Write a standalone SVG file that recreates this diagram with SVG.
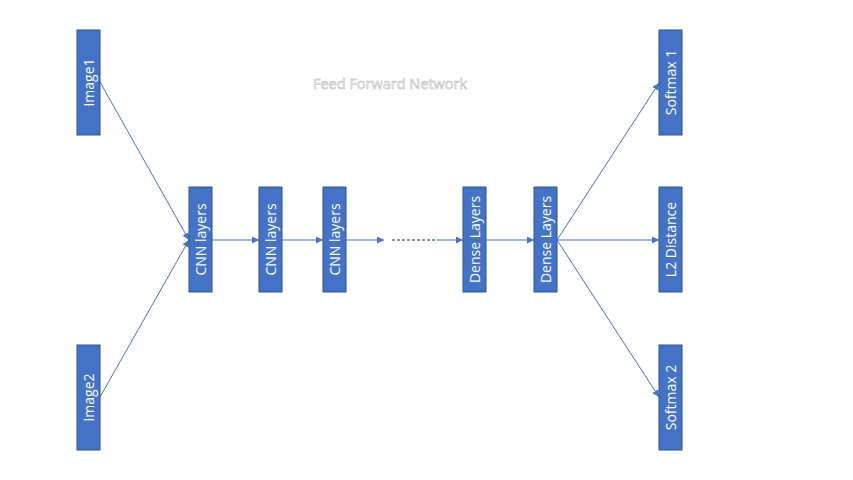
<svg xmlns="http://www.w3.org/2000/svg" width="853" height="480" viewBox="0 0 853 480">
<style>
.box{fill:#4472C4;stroke:#2F528F;stroke-width:1}
.lbl{fill:#fff;font-family:"Open Sans","Liberation Sans",sans-serif;font-size:14px;text-anchor:middle;dominant-baseline:central}
.con{stroke:#4472C4;stroke-width:1;fill:none}
.title{fill:#fff;stroke:#b0b0b0;stroke-width:0.5;font-family:"Open Sans","Liberation Sans",sans-serif;font-size:14.5px;text-anchor:middle;dominant-baseline:central}
</style>
<defs>
<marker id="arr" markerUnits="userSpaceOnUse" markerWidth="8" markerHeight="8" refX="7" refY="3.5" orient="auto">
<path d="M0,0 L7,3.5 L0,7 Z" fill="#4472C4"/>
</marker>
</defs>
<rect width="853" height="480" fill="#fff"/>
<text class="title" x="390" y="83">Feed Forward Network</text>
<g id="connectors">
<line class="con" x1="100" y1="82" x2="189" y2="240" marker-end="url(#arr)"/>
<line class="con" x1="100" y1="397" x2="189" y2="240" marker-end="url(#arr)"/>
<line class="con" x1="212" y1="240" x2="259" y2="240" marker-end="url(#arr)"/>
<line class="con" x1="282" y1="240" x2="323" y2="240" marker-end="url(#arr)"/>
<line class="con" x1="346" y1="240" x2="384" y2="240" marker-end="url(#arr)"/>
<line x1="392" y1="240" x2="438" y2="240" stroke="#222" stroke-width="1" stroke-dasharray="3,2"/>
<line class="con" x1="438" y1="240" x2="463" y2="240" marker-end="url(#arr)"/>
<line class="con" x1="486" y1="240" x2="534" y2="240" marker-end="url(#arr)"/>
<line class="con" x1="557" y1="240" x2="659" y2="83" marker-end="url(#arr)"/>
<line class="con" x1="557" y1="240" x2="659" y2="240" marker-end="url(#arr)"/>
<line class="con" x1="557" y1="240" x2="659" y2="397" marker-end="url(#arr)"/>
</g>
<g id="image1"><rect class="box" x="77" y="30" width="23" height="105"/><text class="lbl" transform="translate(88.5,82.5) rotate(-90)">Image1</text></g>
<g id="image2"><rect class="box" x="77" y="345" width="23" height="105"/><text class="lbl" transform="translate(88.5,397.5) rotate(-90)">Image2</text></g>
<g id="cnn1"><rect class="box" x="189" y="187" width="23" height="105"/><text class="lbl" transform="translate(200.5,239.5) rotate(-90)">CNN layers</text></g>
<g id="cnn2"><rect class="box" x="259" y="187" width="23" height="105"/><text class="lbl" transform="translate(270.5,239.5) rotate(-90)">CNN layers</text></g>
<g id="cnn3"><rect class="box" x="323" y="187" width="23" height="105"/><text class="lbl" transform="translate(334.5,239.5) rotate(-90)">CNN layers</text></g>
<g id="dense1"><rect class="box" x="463" y="187" width="23" height="105"/><text class="lbl" transform="translate(474.5,239.5) rotate(-90)">Dense Layers</text></g>
<g id="dense2"><rect class="box" x="534" y="187" width="23" height="105"/><text class="lbl" transform="translate(545.5,239.5) rotate(-90)">Dense Layers</text></g>
<g id="softmax1"><rect class="box" x="659" y="30" width="23" height="105"/><text class="lbl" transform="translate(670.5,82.5) rotate(-90)">Softmax 1</text></g>
<g id="l2"><rect class="box" x="659" y="187" width="23" height="105"/><text class="lbl" transform="translate(670.5,239.5) rotate(-90)">L2 Distance</text></g>
<g id="softmax2"><rect class="box" x="659" y="345" width="23" height="105"/><text class="lbl" transform="translate(670.5,397.5) rotate(-90)">Softmax 2</text></g>
</svg>
